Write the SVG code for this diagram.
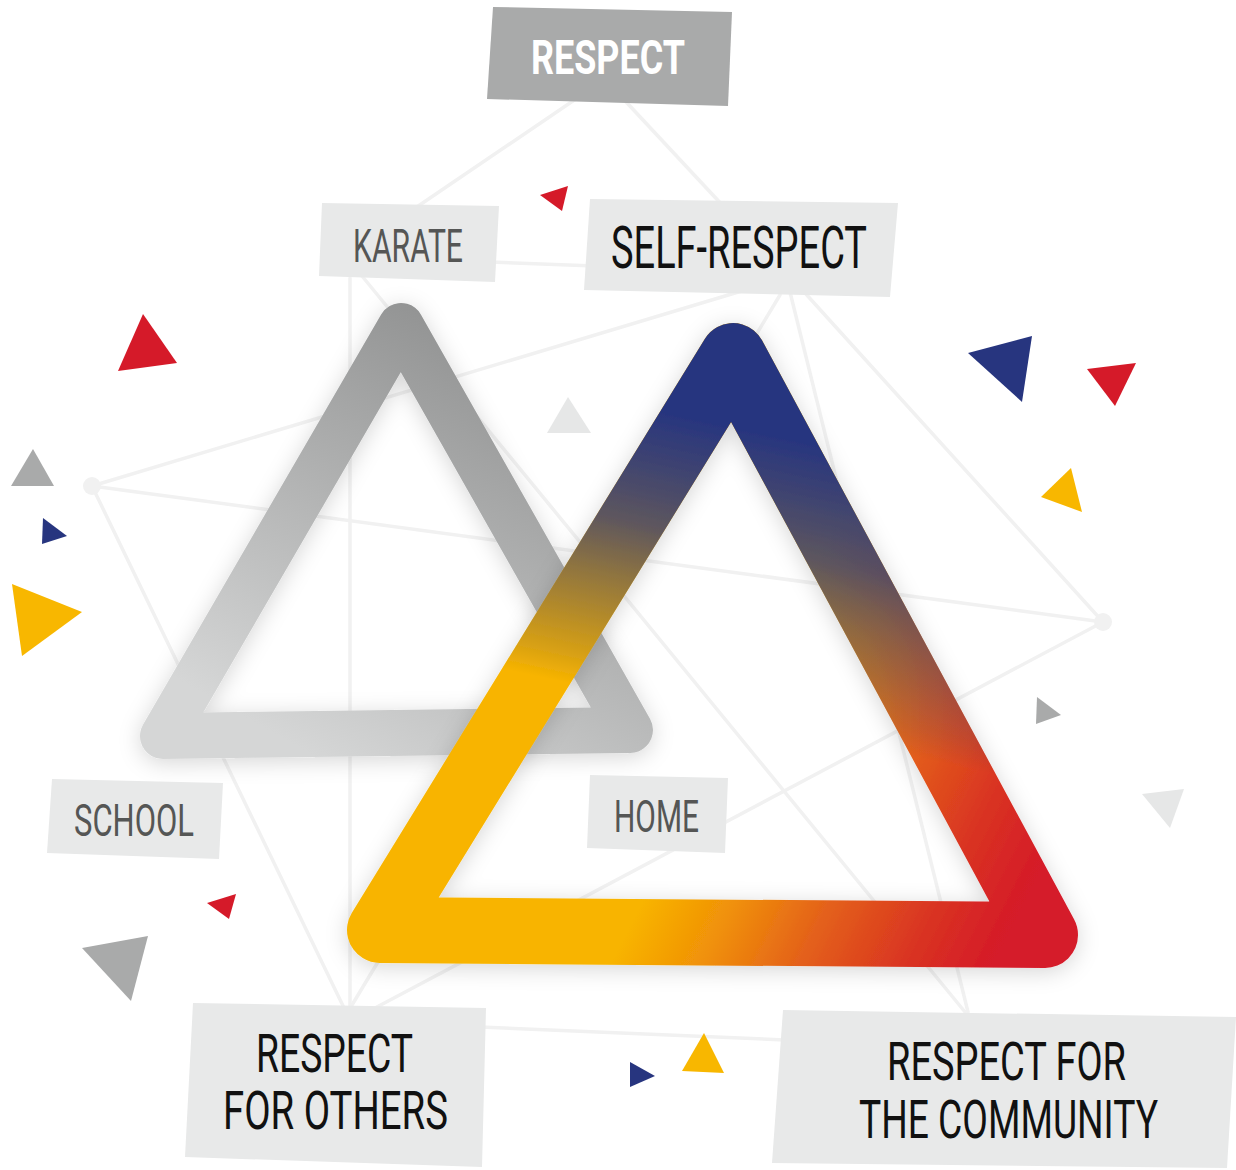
<svg xmlns="http://www.w3.org/2000/svg" width="1236" height="1170" viewBox="0 0 1236 1170">
  <defs>
    <style>
      .net { stroke: #f1f1f1; stroke-width: 3.5; stroke-linecap: round; fill: none; }
      .dot { fill: #f1f1f1; }
      .box { fill: #e8e9e9; }
      .lbl { font-family: "Liberation Sans Narrow", "Roboto", "Liberation Sans", sans-serif; font-weight: 400; }
      .head { font-family: "Roboto", "Liberation Sans", sans-serif; font-weight: 700; }
      .dim { fill: #555655; }
      .ink { fill: #111111; }
      .ring { fill: none; stroke-linejoin: round; }
      .red { fill: #d51a29; }
      .blue { fill: #27357f; }
      .yel { fill: #f8b700; }
      .gry { fill: #a9aaaa; }
      .lgt { fill: #e6e7e7; }
    </style>
    <linearGradient id="gGray" gradientUnits="userSpaceOnUse" x1="470" y1="330" x2="250" y2="720">
      <stop offset="0" stop-color="#929393"/>
      <stop offset="1" stop-color="#d5d6d6"/>
    </linearGradient>
    <linearGradient id="gWarm" gradientUnits="userSpaceOnUse" x1="560" y1="700" x2="1050" y2="950">
      <stop offset="0" stop-color="#f8b400"/>
      <stop offset="0.3" stop-color="#f8b400"/>
      <stop offset="0.45" stop-color="#f09008"/>
      <stop offset="0.6" stop-color="#e4621a"/>
      <stop offset="0.78" stop-color="#d93322"/>
      <stop offset="0.92" stop-color="#d51a29"/>
    </linearGradient>
    <linearGradient id="gBlue" gradientUnits="userSpaceOnUse" x1="800" y1="440" x2="740" y2="720">
      <stop offset="0" stop-color="#27357f" stop-opacity="1"/>
      <stop offset="0.2" stop-color="#27357f" stop-opacity="0.88"/>
      <stop offset="0.4" stop-color="#27357f" stop-opacity="0.74"/>
      <stop offset="0.6" stop-color="#27357f" stop-opacity="0.5"/>
      <stop offset="0.75" stop-color="#27357f" stop-opacity="0.33"/>
      <stop offset="0.9" stop-color="#27357f" stop-opacity="0.15"/>
      <stop offset="1" stop-color="#27357f" stop-opacity="0"/>
    </linearGradient>
    <filter id="soft" x="-20%" y="-20%" width="140%" height="140%">
      <feDropShadow dx="0" dy="4" stdDeviation="11" flood-color="#000000" flood-opacity="0.16"/>
    </filter>
  </defs>

  <rect width="1236" height="1170" fill="#ffffff"/>

  <!-- background network -->
  <g id="connectors">
    <line class="net" x1="589" y1="90" x2="405" y2="215"/>
    <line class="net" x1="615" y1="90" x2="725" y2="208"/>
    <line class="net" x1="490" y1="262" x2="595" y2="266"/>
    <line class="net" x1="92" y1="486" x2="745" y2="290"/>
    <line class="net" x1="92" y1="486" x2="1103" y2="622"/>
    <line class="net" x1="92" y1="486" x2="345" y2="1010"/>
    <line class="net" x1="350" y1="278" x2="350" y2="1010"/>
    <line class="net" x1="362" y1="276" x2="965" y2="1012"/>
    <line class="net" x1="790" y1="292" x2="968" y2="1012"/>
    <line class="net" x1="805" y1="293" x2="1103" y2="622"/>
    <line class="net" x1="1103" y1="622" x2="375" y2="1008"/>
    <line class="net" x1="780" y1="295" x2="352" y2="1005"/>
    <line class="net" x1="480" y1="1027" x2="785" y2="1040"/>
    <circle class="dot" cx="92" cy="486" r="9"/>
    <circle class="dot" cx="1103" cy="622" r="9"/>
  </g>

  <!-- grey triangle -->
  <g id="tri-grey" filter="url(#soft)">
    <path class="ring" d="M401,326 L163,736 L630,730 Z" stroke="url(#gGray)" stroke-width="46"/>
  </g>

  <!-- coloured triangle: warm base with a fading blue layer on top -->
  <g id="tri-colour" filter="url(#soft)">
    <path class="ring" d="M733,356 L380,930 L1045,935 Z" stroke="url(#gWarm)" stroke-width="66"/>
    <path class="ring" d="M733,356 L380,930 L1045,935 Z" stroke="url(#gBlue)" stroke-width="66"/>
  </g>

  <!-- labels -->
  <g id="respect">
    <polygon points="493,7 732,12 728,106 487,99" fill="#a9aaaa"/>
    <text class="head" x="531" y="74" font-size="49" fill="#ffffff" textLength="154" lengthAdjust="spacingAndGlyphs">RESPECT</text>
  </g>
  <g id="karate">
    <polygon class="box" points="322,203 499,206 495,282 319,276"/>
    <text class="lbl dim" x="353" y="262" font-size="46" textLength="110" lengthAdjust="spacingAndGlyphs">KARATE</text>
  </g>
  <g id="self-respect">
    <polygon class="box" points="590,199 898,203 890,297 584,290"/>
    <text class="lbl ink" x="611" y="268" font-size="59" textLength="256" lengthAdjust="spacingAndGlyphs">SELF-RESPECT</text>
  </g>
  <g id="school">
    <polygon class="box" points="52,779 223,783 219,859 47,853"/>
    <text class="lbl dim" x="74" y="836" font-size="44" textLength="120" lengthAdjust="spacingAndGlyphs">SCHOOL</text>
  </g>
  <g id="home">
    <polygon class="box" points="590,775 728,778 725,853 587,848"/>
    <text class="lbl dim" x="614" y="832" font-size="44" textLength="85" lengthAdjust="spacingAndGlyphs">HOME</text>
  </g>
  <g id="respect-others">
    <polygon class="box" points="193,1003 486,1008 482,1167 185,1157"/>
    <text class="lbl ink" x="256" y="1072" font-size="54" textLength="157" lengthAdjust="spacingAndGlyphs">RESPECT</text>
    <text class="lbl ink" x="223" y="1129" font-size="54" textLength="225" lengthAdjust="spacingAndGlyphs">FOR OTHERS</text>
  </g>
  <g id="respect-community">
    <polygon class="box" points="783,1010 1236,1017 1227,1168 772,1163"/>
    <text class="lbl ink" x="887" y="1080" font-size="54" textLength="239" lengthAdjust="spacingAndGlyphs">RESPECT FOR</text>
    <text class="lbl ink" x="859" y="1138" font-size="54" textLength="299" lengthAdjust="spacingAndGlyphs">THE COMMUNITY</text>
  </g>

  <!-- confetti -->
  <g id="confetti">
    <polygon class="red" points="540,195 568,186 562,211"/>
    <polygon class="red" points="143,314 177,363 118,371"/>
    <polygon class="gry" points="33,449 54,486 11,486"/>
    <polygon class="blue" points="43,518 67,536 42,544"/>
    <polygon class="yel" points="12,584 82,612 22,656"/>
    <polygon class="lgt" points="568,397 591,433 547,433"/>
    <polygon class="blue" points="968,353 1032,336 1022,402"/>
    <polygon class="red" points="1087,369 1136,363 1115,406"/>
    <polygon class="yel" points="1071,468 1082,512 1041,497"/>
    <polygon class="gry" points="1037,697 1061,715 1036,724"/>
    <polygon class="lgt" points="1142,794 1184,789 1170,828"/>
    <polygon class="red" points="207,903 236,894 229,919"/>
    <polygon class="gry" points="82,948 148,936 131,1001"/>
    <polygon class="blue" points="630,1062 655,1076 630,1087"/>
    <polygon class="yel" points="704,1033 724,1073 682,1071"/>
  </g>
</svg>
